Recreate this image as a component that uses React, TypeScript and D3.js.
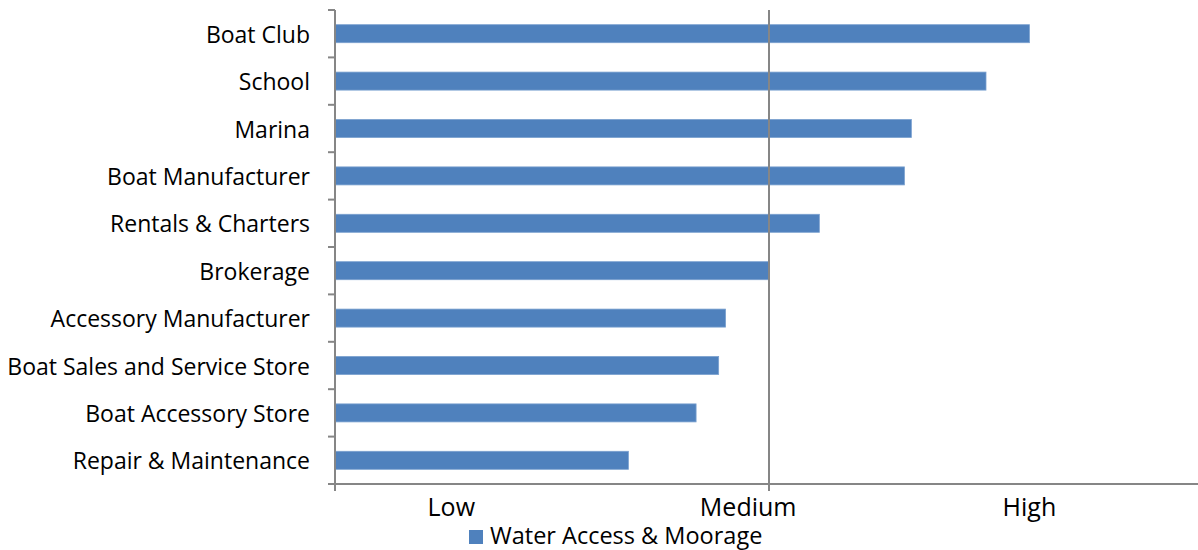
import React from "react";
import * as d3 from "d3";

const categories = [
  "Boat Club",
  "School",
  "Marina",
  "Boat Manufacturer",
  "Rentals & Charters",
  "Brokerage",
  "Accessory Manufacturer",
  "Boat Sales and Service Store",
  "Boat Accessory Store",
  "Repair & Maintenance",
];
const values = [4.0, 3.75, 3.32, 3.28, 2.79, 2.5, 2.25, 2.21, 2.08, 1.69];
const levelLabels = ["Low", "Medium", "High"];
const levelPositions = [0.67, 2.38, 4.0];
const seriesName = "Water Access & Moorage";

const W = 1198;
const H = 550;
const FONT = "'Open Sans', sans-serif";
const AXIS = "#868686";
const BAR = "#4F81BD";

export default function App() {
  const x = d3.scaleLinear().domain([0, 5]).range([335, 1203]);
  const y = d3.scaleBand<string>().domain(categories).range([10, 484]).paddingInner(0.62).paddingOuter(0.31);
  const band = d3.scaleBand<string>().domain(categories).range([10, 484]);
  const boundaries = categories.map((c) => band(c)!).concat([484]);

  return (
    <svg width={W} height={H} style={{ position: "absolute", left: 0, top: 0, background: "#fff" }}>
      {categories.map((c, i) => (
        <rect
          key={c}
          x={x(0)}
          y={y(c)!}
          width={x(values[i]) - x(0)}
          height={y.bandwidth()}
          fill={BAR}
          stroke="#7aa0cf"
          strokeWidth={0.8}
        />
      ))}
      <line x1={x(2.5)} x2={x(2.5)} y1={10} y2={491} stroke={AXIS} strokeWidth={2} />
      <line x1={x(0)} x2={x(0)} y1={10} y2={491} stroke={AXIS} strokeWidth={2} />
      {boundaries.map((b, i) => (
        <line key={i} x1={328} x2={x(0)} y1={b} y2={b} stroke={AXIS} strokeWidth={2} />
      ))}
      <line x1={x(0)} x2={W} y1={484} y2={484} stroke={AXIS} strokeWidth={2} />
      {categories.map((c) => (
        <text
          key={c}
          x={310}
          y={band(c)! + band.bandwidth() / 2}
          textAnchor="end"
          dominantBaseline="central"
          fontFamily={FONT}
          fontSize={23}
          fill="#000"
        >
          {c}
        </text>
      ))}
      {levelLabels.map((l, i) => (
        <text
          key={l}
          x={x(levelPositions[i])}
          y={516}
          textAnchor="middle"
          fontFamily={FONT}
          fontSize={25}
          fill="#000"
        >
          {l}
        </text>
      ))}
      <rect x={469} y={530} width={14} height={14} fill={BAR} />
      <text x={490} y={544} fontFamily={FONT} fontSize={23.5} fill="#000">
        {seriesName}
      </text>
    </svg>
  );
}
